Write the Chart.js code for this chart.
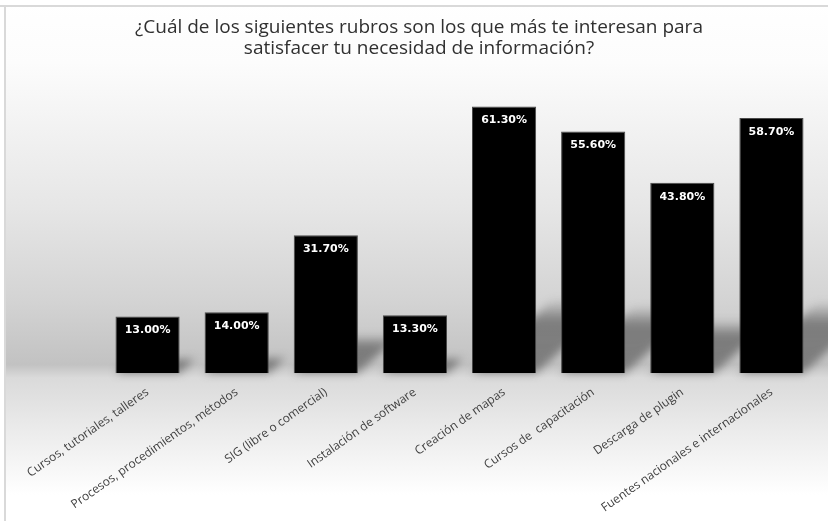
<!DOCTYPE html>
<html lang="es">
<head>
  <meta charset="UTF-8">
  <title>Rubros de interés</title>
  <script src="https://cdn.jsdelivr.net/npm/chart.js"></script>
  <style>
    html, body {
      margin: 0;
      padding: 0;
      background: #ffffff;
    }
    .chart-box {
      width: 828px;
      height: 521px;
    }
  </style>
</head>
<body>
  <div class="chart-box">
    <canvas id="rubrosChart"></canvas>
  </div>

  <script>
    const titleLines = [
      '¿Cuál de los siguientes rubros son los que más te interesan para',
      'satisfacer tu necesidad de información?'
    ];
    const categories = [
      'Cursos, tutoriales, talleres',
      'Procesos, procedimientos, métodos',
      'SIG (libre o comercial)',
      'Instalación de software',
      'Creación de mapas',
      'Cursos de  capacitación',
      'Descarga de plugin',
      'Fuentes nacionales e internacionales'
    ];
    const percentages = [13.0, 14.0, 31.7, 13.3, 61.3, 55.6, 43.8, 58.7];

    // gray backdrop with a darker "floor" band under the bars, plus frame lines
    const backdrop = {
      id: 'backdrop',
      beforeDraw(chart) {
        const { ctx, width, height } = chart;
        const g = ctx.createLinearGradient(0, 0, 0, height);
        g.addColorStop(0.00, '#ffffff');
        g.addColorStop(0.12, '#fcfcfc');
        g.addColorStop(0.40, '#e6e6e6');
        g.addColorStop(0.58, '#d3d3d3');
        g.addColorStop(0.70, '#c2c2c2');
        g.addColorStop(0.725, '#dadada');
        g.addColorStop(0.83, '#ececec');
        g.addColorStop(0.95, '#ffffff');
        ctx.save();
        ctx.fillStyle = '#ffffff';
        ctx.fillRect(0, 0, width, height);
        ctx.fillStyle = g;
        ctx.fillRect(5, 6, width - 5, height - 6);
        ctx.fillStyle = '#d9d9d9';
        ctx.fillRect(0, 5, width, 2);
        ctx.fillRect(4, 5, 2, height - 5);
        ctx.restore();
      }
    };

    // slanted soft shadow cast behind every bar
    const barShadows = {
      id: 'barShadows',
      beforeDatasetsDraw(chart) {
        const { ctx } = chart;
        const meta = chart.getDatasetMeta(0);
        ctx.save();
        ctx.filter = 'blur(4px)';
        meta.data.forEach(bar => {
          const p = bar.getProps(['x', 'y', 'base', 'width'], true);
          const h = p.base - p.y;
          const dy = h * 0.28;
          const dx = dy * 1.1;
          const left = p.x - p.width / 2;
          const right = p.x + p.width / 2;
          const g = ctx.createLinearGradient(0, p.base, 0, p.base - dy);
          g.addColorStop(0, 'rgba(60,60,60,0.5)');
          g.addColorStop(0.7, 'rgba(60,60,60,0.55)');
          g.addColorStop(1, 'rgba(60,60,60,0)');
          ctx.fillStyle = g;
          ctx.beginPath();
          ctx.moveTo(left, p.base);
          ctx.lineTo(right, p.base);
          ctx.lineTo(right + dx, p.base - dy);
          ctx.lineTo(left + dx, p.base - dy);
          ctx.closePath();
          ctx.fill();
        });
        ctx.restore();
      }
    };

    // white percentage label near the top of each bar
    const valueLabels = {
      id: 'valueLabels',
      afterDatasetsDraw(chart) {
        const { ctx } = chart;
        const meta = chart.getDatasetMeta(0);
        ctx.save();
        ctx.fillStyle = '#ffffff';
        ctx.font = 'bold 11px "DejaVu Sans", sans-serif';
        ctx.textAlign = 'center';
        ctx.textBaseline = 'middle';
        meta.data.forEach((bar, i) => {
          ctx.fillText(percentages[i].toFixed(2) + '%', bar.x, bar.y + 14);
        });
        ctx.restore();
      }
    };

    const ctx = document.getElementById('rubrosChart').getContext('2d');

    new Chart(ctx, {
      type: 'bar',
      data: {
        labels: categories,
        datasets: [{
          data: percentages,
          backgroundColor: '#000000',
          borderColor: '#4a4a4a',
          borderWidth: 1,
          barPercentage: 0.8,
          categoryPercentage: 0.9
        }]
      },
      options: {
        responsive: true,
        maintainAspectRatio: false,
        animation: false,
        layout: {
          padding: { left: 22, right: 12, top: 17, bottom: 2 }
        },
        plugins: {
          legend: { display: false },
          tooltip: { enabled: false },
          title: {
            display: true,
            text: titleLines,
            color: '#303030',
            font: { family: 'Open Sans', size: 19, weight: 'normal', lineHeight: 1.1 },
            padding: { top: 0, bottom: 10 }
          }
        },
        scales: {
          y: {
            min: 0,
            max: 70,
            grid: { display: false },
            border: { display: false },
            ticks: { display: false },
            // empty strip keeping the plot clear of the left edge
            afterFit(scale) { scale.width = 81; }
          },
          x: {
            grid: { display: false },
            border: { display: false },
            ticks: {
              color: '#404040',
              font: { family: 'Open Sans', size: 12 },
              minRotation: 35,
              maxRotation: 35,
              autoSkip: false,
              padding: 4
            }
          }
        }
      },
      plugins: [backdrop, barShadows, valueLabels]
    });
  </script>
</body>
</html>
